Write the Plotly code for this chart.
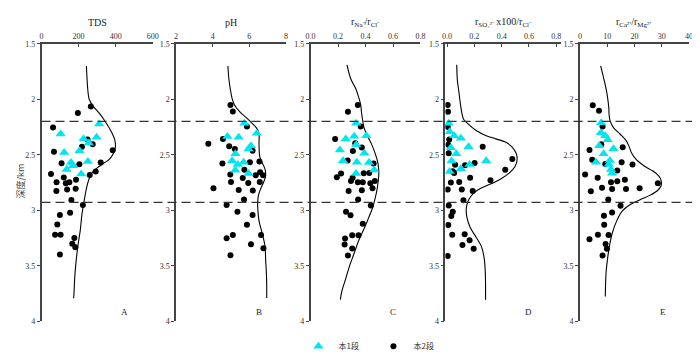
import plotly.graph_objects as go

# ---------------- data ----------------
# Panel A: TDS
A_tri_x = [310, 103, 227, 297, 255, 205, 122, 159, 170, 135, 250, 214]
A_tri_d = [2.223, 2.314, 2.357, 2.343, 2.394, 2.463, 2.48, 2.571, 2.60, 2.634, 2.56, 2.674]
A_dot_x = [266, 196, 62, 248, 276, 218, 384, 67, 108, 204, 319, 292, 51, 260, 120, 186, 81, 131, 150,
           80, 138, 184, 161, 223, 154, 99, 85, 73, 103, 177, 166, 182, 99]
A_dot_d = [2.066, 2.123, 2.254, 2.363, 2.406, 2.429, 2.46, 2.474, 2.577, 2.586, 2.571, 2.651, 2.674, 2.683,
           2.706, 2.726, 2.749, 2.757, 2.749, 2.826, 2.814, 2.806, 2.909, 2.954, 3.023, 3.043, 3.129, 3.22,
           3.22, 3.251, 3.303, 3.334, 3.40]
A_cur_x = [242, 250, 257, 280, 310, 347, 377, 395, 398, 386, 368, 333, 297, 271, 250, 232, 218, 209, 196,
           186, 179, 175, 173]
A_cur_d = [1.70, 1.923, 2.0, 2.066, 2.123, 2.209, 2.294, 2.366, 2.437, 2.494, 2.537, 2.58, 2.623, 2.666,
           2.751, 2.894, 3.037, 3.18, 3.323, 3.466, 3.609, 3.751, 3.794]

# Panel B: pH
B_tri_x = [5.73, 6.41, 4.80, 5.42, 6.09, 5.96, 5.24, 5.06, 5.37, 5.69, 5.23, 5.96]
B_tri_d = [2.217, 2.307, 2.336, 2.342, 2.42, 2.449, 2.49, 2.554, 2.588, 2.568, 2.64, 2.67]
B_dot_x = [4.97, 5.10, 5.87, 4.56, 3.76, 4.90, 5.21, 6.18, 4.53, 6.03, 6.55, 5.73, 4.96, 6.35, 6.59, 6.75,
           5.64, 5.00, 5.94, 6.57, 4.04, 5.42, 6.19, 5.71, 4.76, 5.35, 6.18, 5.87, 6.64, 5.10, 4.76, 6.09,
           6.77, 4.97]
B_dot_d = [2.052, 2.110, 2.246, 2.359, 2.40, 2.423, 2.449, 2.464, 2.58, 2.568, 2.562, 2.635, 2.678, 2.684,
           2.658, 2.684, 2.71, 2.745, 2.754, 2.745, 2.803, 2.817, 2.823, 2.904, 2.954, 3.014, 3.043, 3.13,
           3.223, 3.223, 3.252, 3.307, 3.342, 3.406]
B_cur_x = [4.83, 4.885, 4.96, 5.06, 5.19, 5.46, 5.85, 6.21, 6.44, 6.53, 6.53, 6.57, 6.71, 6.86, 6.89, 6.78,
           6.62, 6.50, 6.46, 6.46, 6.53, 6.71, 6.86, 6.89, 6.93, 6.95, 6.95]
B_cur_d = [1.70, 1.82, 1.907, 1.994, 2.052, 2.11, 2.168, 2.226, 2.27, 2.313, 2.40, 2.516, 2.574, 2.632,
           2.69, 2.748, 2.806, 2.864, 2.922, 2.98, 3.096, 3.212, 3.328, 3.443, 3.559, 3.675, 3.791]

# Panel C: rNa+/rCl-
C_tri_x = [0.332, 0.256, 0.318, 0.406, 0.332, 0.213, 0.392, 0.236, 0.337, 0.425, 0.463, 0.33]
C_tri_d = [2.217, 2.359, 2.333, 2.33, 2.409, 2.458, 2.487, 2.554, 2.568, 2.571, 2.638, 2.67]
C_dot_x = [0.344, 0.272, 0.365, 0.179, 0.325, 0.373, 0.308, 0.27, 0.459, 0.222, 0.191, 0.387, 0.427, 0.306,
           0.294, 0.344, 0.38, 0.435, 0.468, 0.451, 0.277, 0.373, 0.346, 0.439, 0.258, 0.291, 0.38, 0.303,
           0.349, 0.251, 0.248, 0.303, 0.272]
C_dot_d = [2.052, 2.113, 2.246, 2.359, 2.397, 2.435, 2.467, 2.551, 2.58, 2.67, 2.704, 2.667, 2.664, 2.707,
           2.736, 2.748, 2.748, 2.757, 2.736, 2.803, 2.826, 2.82, 2.904, 2.957, 3.014, 3.046, 3.122, 3.226,
           3.226, 3.255, 3.31, 3.345, 3.409]
C_cur_x = [0.265, 0.294, 0.33, 0.353, 0.365, 0.37, 0.38, 0.389, 0.413, 0.442, 0.47, 0.49, 0.497, 0.494,
           0.485, 0.47, 0.451, 0.423, 0.394, 0.351, 0.318, 0.284, 0.256, 0.227, 0.217]
C_cur_d = [1.69, 1.82, 1.907, 1.994, 2.052, 2.11, 2.197, 2.255, 2.328, 2.40, 2.487, 2.574, 2.661, 2.719,
           2.806, 2.893, 2.98, 3.067, 3.154, 3.27, 3.386, 3.501, 3.617, 3.733, 3.806]

# Panel D: rSO4 x100 / rCl-
D_tri_x = [0.012, 0.019, 0.052, 0.101, 0.028, 0.158, 0.068, 0.033, 0.101, 0.165, 0.287, 0.019]
D_tri_d = [2.217, 2.293, 2.33, 2.351, 2.438, 2.429, 2.49, 2.557, 2.626, 2.588, 2.554, 2.652]
D_dot_x = [0.005, 0.007, 0.005, 0.016, 0.009, 0.012, 0.261, 0.478, 0.059, 0.132, 0.202, 0.426, 0.042,
           0.052, 0.169, 0.318, 0.028, 0.089, 0.005, 0.108, 0.188, 0.12, 0.012, 0.042, 0.031, 0.009, 0.038,
           0.129, 0.165, 0.113, 0.195, 0.005]
D_dot_d = [2.052, 2.113, 2.249, 2.362, 2.409, 2.487, 2.429, 2.539, 2.591, 2.594, 2.574, 2.635, 2.649,
           2.664, 2.707, 2.73, 2.751, 2.745, 2.814, 2.814, 2.826, 2.91, 2.957, 3.014, 3.052, 3.133, 3.22,
           3.217, 3.27, 3.313, 3.348, 3.412]
D_cur_x = [0.071, 0.075, 0.087, 0.099, 0.111, 0.122, 0.158, 0.216, 0.287, 0.358, 0.428, 0.475, 0.506, 0.513,
           0.499, 0.459, 0.393, 0.322, 0.24, 0.193, 0.158, 0.141, 0.146, 0.169, 0.212, 0.252, 0.273, 0.28,
           0.282, 0.282]
D_cur_d = [1.69, 1.82, 1.936, 2.052, 2.139, 2.183, 2.226, 2.284, 2.328, 2.357, 2.386, 2.429, 2.487, 2.545,
           2.603, 2.661, 2.719, 2.762, 2.806, 2.849, 2.907, 2.98, 3.067, 3.154, 3.241, 3.328, 3.443, 3.559,
           3.675, 3.806]

# Panel E: rCa2+/rMg2+
E_tri_x = [7.8, 7.7, 9.3, 10.2, 7.1, 12.3, 8.7, 11.0, 5.9, 10.6, 11.4, 11.8]
E_tri_d = [2.212, 2.301, 2.328, 2.365, 2.42, 2.446, 2.49, 2.551, 2.568, 2.588, 2.632, 2.667]
E_dot_x = [4.7, 7.0, 8.3, 7.8, 3.5, 15.7, 4.5, 15.3, 19.3, 9.3, 13.7, 1.9, 6.5, 16.5, 13.7, 11.4, 28.6, 8.1,
           11.8, 16.9, 21.9, 4.0, 10.4, 14.9, 11.8, 8.8, 8.9, 6.6, 10.5, 3.5, 9.4, 9.9, 8.3]
E_dot_d = [2.055, 2.104, 2.246, 2.406, 2.458, 2.432, 2.545, 2.568, 2.588, 2.583, 2.641, 2.678, 2.707, 2.725,
           2.739, 2.748, 2.757, 2.797, 2.809, 2.809, 2.803, 2.829, 2.904, 2.959, 3.02, 3.049, 3.13, 3.22,
           3.223, 3.261, 3.304, 3.348, 3.409]
E_cur_x = [7.6, 8.8, 9.6, 10.2, 10.6, 10.7, 11.1, 12.3, 14.7, 16.9, 18.1, 19.0, 20.7, 23.7, 26.8, 28.9, 29.8,
           29.8, 28.6, 25.8, 21.9, 18.3, 15.5, 13.5, 11.8, 10.8, 10.1, 9.6, 9.4, 9.3]
E_cur_d = [1.70, 1.82, 1.907, 1.994, 2.081, 2.139, 2.197, 2.255, 2.313, 2.371, 2.429, 2.487, 2.545, 2.603,
           2.647, 2.69, 2.733, 2.777, 2.82, 2.864, 2.907, 2.951, 3.009, 3.096, 3.212, 3.328, 3.443, 3.559,
           3.675, 3.777]

panel_titles = ["TDS", "pH", "r<sub>Na⁺</sub>/r<sub>Cl⁻</sub>",
                "r<sub>SO₄²⁻</sub> x100/r<sub>Cl⁻</sub>", "r<sub>Ca²⁺</sub>/r<sub>Mg²⁺</sub>"]
panel_letters = ["A", "B", "C", "D", "E"]
x_tickvals = [[0, 200, 400, 600], [2, 4, 6, 8], [0, 0.2, 0.4, 0.6, 0.8], [0, 0.2, 0.4, 0.6, 0.8],
              [0, 10, 20, 30, 40]]
x_ticktext = [["0", "200", "400", "600"], ["2", "4", "6", "8"], ["0.0", "0.2", "0.4", "0.6", "0.8"],
              ["0.0", "0.2", "0.4", "0.6", "0.8"], ["0", "10", "20", "30", "40"]]
x_ranges = [[0, 600], [2, 8], [0, 0.8], [-0.012, 0.834], [0, 40]]
y_tickvals = [1.5, 2, 2.5, 3, 3.5, 4]
y_ticktext = ["1.5", "2", "2.5", "3", "3.5", "4"]
boundary_depths = [2.2, 2.93]
legend_names = ["本1段", "本2段"]
y_title = "深度/km"

# ---------------- figure ----------------
W, H = 700, 353
px_left = [29, 165.7, 302.3, 439.3, 576]
px_right = [142, 277.3, 414, 556.7, 686.7]
y_top_px, y_bot_px = 33, 321
ydom = [1 - y_bot_px / H, 1 - y_top_px / H]

CYAN = "#00E6F0"
AXC = "#444444"
SERIF = "Liberation Serif"

panels = [
    (A_tri_x, A_tri_d, A_dot_x, A_dot_d, A_cur_x, A_cur_d),
    (B_tri_x, B_tri_d, B_dot_x, B_dot_d, B_cur_x, B_cur_d),
    (C_tri_x, C_tri_d, C_dot_x, C_dot_d, C_cur_x, C_cur_d),
    (D_tri_x, D_tri_d, D_dot_x, D_dot_d, D_cur_x, D_cur_d),
    (E_tri_x, E_tri_d, E_dot_x, E_dot_d, E_cur_x, E_cur_d),
]

fig = go.Figure()
annotations = []
layout_axes = {}
for i, (tx, td, dx, dd, cx, cd) in enumerate(panels):
    n = "" if i == 0 else str(i + 1)
    xa, ya = "x" + n, "y" + n
    fig.add_trace(go.Scatter(x=cx, y=cd, mode="lines", line=dict(color="black", width=1.1, shape="spline"),
                             xaxis=xa, yaxis=ya, showlegend=False, hoverinfo="skip"))
    fig.add_trace(go.Scatter(x=dx, y=dd, mode="markers", name=legend_names[1],
                             marker=dict(symbol="circle", size=6, color="black"),
                             xaxis=xa, yaxis=ya, legendgroup="b", showlegend=(i == 0), legendrank=2))
    fig.add_trace(go.Scatter(x=tx, y=td, mode="markers", name=legend_names[0],
                             marker=dict(symbol="triangle-up", size=9, color=CYAN),
                             xaxis=xa, yaxis=ya, legendgroup="a", showlegend=(i == 0), legendrank=1))
    layout_axes["xaxis" + n] = dict(
        domain=[px_left[i] / W, px_right[i] / W], anchor=ya, side="top", range=x_ranges[i],
        tickvals=x_tickvals[i], ticktext=x_ticktext[i], showline=True, linecolor=AXC, linewidth=1.5,
        ticks="inside", ticklen=3, tickcolor=AXC, showgrid=False, zeroline=False,
        tickfont=dict(family=SERIF, size=8, color="#333333"), fixedrange=True)
    layout_axes["yaxis" + n] = dict(
        domain=ydom, anchor=xa, range=[4, 1.5], tickvals=y_tickvals, ticktext=y_ticktext,
        showline=True, linecolor=AXC, linewidth=1.5, ticks="outside", ticklen=3, tickcolor=AXC,
        showgrid=False, zeroline=False, tickfont=dict(family=SERIF, size=8, color="#333333"), fixedrange=True)
    cx_mid = (px_left[i] + px_right[i]) / 2 / W
    annotations.append(dict(text=panel_titles[i], x=cx_mid, y=1 - 11 / H, xref="paper", yref="paper",
                            showarrow=False, font=dict(family=SERIF, size=10, color="#222222"),
                            xanchor="center", yanchor="middle"))
    annotations.append(dict(text=panel_letters[i], x=(px_left[i] + 84) / W, y=1 - 311 / H, xref="paper",
                            yref="paper", showarrow=False, font=dict(family=SERIF, size=9, color="#222222"),
                            xanchor="center", yanchor="middle"))

annotations.append(dict(text=y_title, x=8 / W, y=1 - 175 / H, xref="paper", yref="paper", textangle=-90,
                        showarrow=False, font=dict(family="Noto Sans CJK SC", size=9, color="#444444"),
                        xanchor="center", yanchor="middle"))

shapes = []
for d in boundary_depths:
    shapes.append(dict(type="line", xref="paper", yref="y", x0=29 / W, x1=1.0, y0=d, y1=d,
                       line=dict(color="#333333", width=1.3, dash="9px,5px")))

fig.update_layout(
    width=W, height=H, margin=dict(l=0, r=0, t=0, b=0),
    paper_bgcolor="white", plot_bgcolor="white",
    annotations=annotations, shapes=shapes,
    legend=dict(orientation="h", x=290 / W, y=1 - 347 / H, xanchor="left", yanchor="middle",
                font=dict(family="Noto Sans CJK SC", size=8, color="#333333"),
                entrywidth=30, entrywidthmode="pixels", bgcolor="rgba(0,0,0,0)", itemclick=False),
    **layout_axes,
)
fig.write_html("out.html")
